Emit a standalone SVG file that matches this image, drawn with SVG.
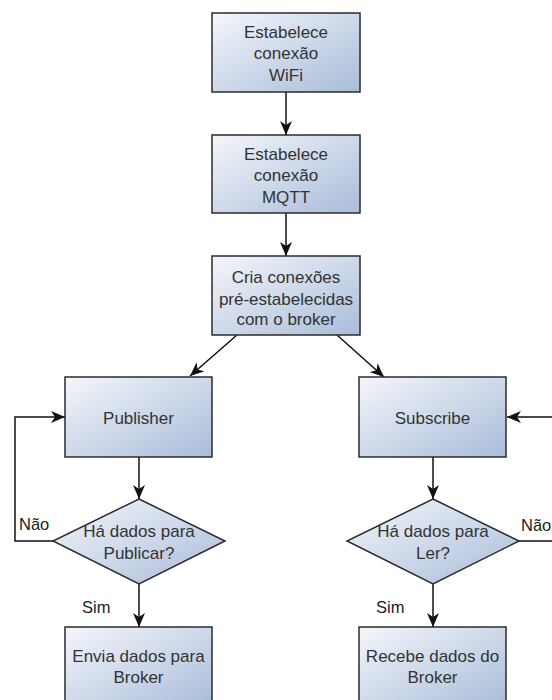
<svg xmlns="http://www.w3.org/2000/svg" width="552" height="700" viewBox="0 0 552 700">
  <defs>
    <linearGradient id="g" x1="0" y1="0" x2="1" y2="1">
      <stop offset="0" stop-color="#f4f6fb"/>
      <stop offset="1" stop-color="#a9bcd9"/>
    </linearGradient>
    <marker id="ah" viewBox="0 0 14 12" refX="14" refY="6" markerWidth="14" markerHeight="12" orient="auto" markerUnits="userSpaceOnUse">
      <path d="M0,0 L14,6 L0,12 L4,6 Z" fill="#111"/>
    </marker>
    <style>
      .n { fill: url(#g); stroke: #2b2b2b; stroke-width: 1.5; }
      .t { font-family: "Liberation Sans", Arial, sans-serif; font-size: 17px; fill: #333; text-anchor: middle; }
      .l { font-family: "Liberation Sans", Arial, sans-serif; font-size: 16.5px; fill: #222; }
      .c { fill: none; stroke: #111; stroke-width: 1.5; marker-end: url(#ah); }
    </style>
  </defs>
  <rect width="552" height="700" fill="#fff"/>

  <g id="connectors">
    <line class="c" x1="286" y1="92" x2="286" y2="135"/>
    <line class="c" x1="286" y1="213" x2="286" y2="256"/>
    <line class="c" x1="237" y1="335" x2="190" y2="376"/>
    <line class="c" x1="337" y1="335" x2="384" y2="377"/>
    <line class="c" x1="139" y1="457" x2="139" y2="499"/>
    <line class="c" x1="433" y1="457" x2="433" y2="499"/>
    <line class="c" x1="139" y1="584" x2="139" y2="627"/>
    <line class="c" x1="433" y1="584" x2="433" y2="627"/>
    <polyline class="c" points="53,541 15,541 15,417 65,417"/>
    <polyline class="c" points="519,541 560,541 560,417 507,417"/>
    <text class="l" x="19" y="530">Não</text>
    <text class="l" x="82" y="613">Sim</text>
    <text class="l" x="521" y="531">Não</text>
    <text class="l" x="376" y="613">Sim</text>
  </g>

  <g id="wifi">
    <rect class="n" x="212" y="13" width="148" height="79"/>
    <text class="t" x="286" y="38">Estabelece</text>
    <text class="t" x="286" y="59">conexão</text>
    <text class="t" x="286" y="81">WiFi</text>
  </g>
  <g id="mqtt">
    <rect class="n" x="212" y="135" width="148" height="78"/>
    <text class="t" x="286" y="160">Estabelece</text>
    <text class="t" x="286" y="181">conexão</text>
    <text class="t" x="286" y="203">MQTT</text>
  </g>
  <g id="conexoes">
    <rect class="n" x="212" y="256" width="148" height="79"/>
    <text class="t" x="286" y="283">Cria conexões</text>
    <text class="t" x="286" y="305">pré-estabelecidas</text>
    <text class="t" x="286" y="325">com o broker</text>
  </g>
  <g id="publisher">
    <rect class="n" x="65" y="377" width="147" height="80"/>
    <text class="t" x="138.5" y="424">Publisher</text>
  </g>
  <g id="subscribe">
    <rect class="n" x="359" y="377" width="147" height="80"/>
    <text class="t" x="432.5" y="424">Subscribe</text>
  </g>
  <g id="dec-publicar">
    <polygon class="n" points="139,499 225,541 139,584 53,541"/>
    <text class="t" x="139" y="537">Há dados para</text>
    <text class="t" x="139" y="559">Publicar?</text>
  </g>
  <g id="dec-ler">
    <polygon class="n" points="433,499 519,541 433,584 347,541"/>
    <text class="t" x="433" y="537">Há dados para</text>
    <text class="t" x="433" y="559">Ler?</text>
  </g>
  <g id="envia">
    <rect class="n" x="65" y="627" width="147" height="80"/>
    <text class="t" x="138.5" y="662">Envia dados para</text>
    <text class="t" x="138.5" y="683">Broker</text>
  </g>
  <g id="recebe">
    <rect class="n" x="359" y="627" width="147" height="80"/>
    <text class="t" x="432.5" y="662">Recebe dados do</text>
    <text class="t" x="432.5" y="683">Broker</text>
  </g>
</svg>
